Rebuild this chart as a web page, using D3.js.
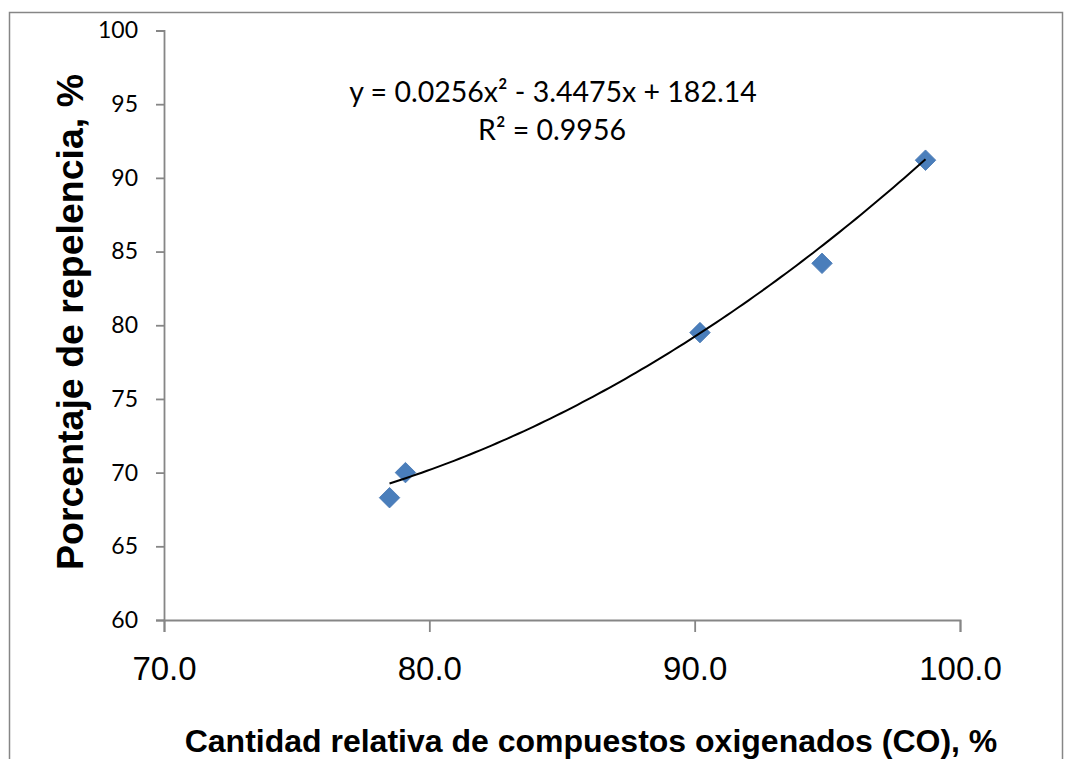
<!DOCTYPE html>
<html>
<head>
<meta charset="utf-8">
<script src="https://cdn.jsdelivr.net/npm/d3@7"></script>
<style>
  body { margin: 0; background: #fff; }
  svg { display: block; }
</style>
</head>
<body>
<div id="chart"></div>
<script>
// Scatter with polynomial trend line (Excel-style chart)

// Data
const coValues = [78.5, 79.1, 90.2, 94.8, 98.7];          // Cantidad relativa de CO, %
const repellence = [68.3, 70.0, 79.5, 84.2, 91.2];         // Porcentaje de repelencia, %
const trendCoef = [182.14, -3.4475, 0.0256];               // c0 + c1*x + c2*x^2
const xTicks = [70, 80, 90, 100];
const yTicks = [60, 65, 70, 75, 80, 85, 90, 95, 100];
const equationText = 'y = 0.0256x\u00B2 - 3.4475x + 182.14';
const r2Text = 'R\u00B2 = 0.9956';

const width = 1065;
const height = 759;
const axisColor = '#868686';

const svg = d3.select('#chart')
    .append('svg')
    .attr('width', width)
    .attr('height', height);

// Chart frame
svg.append('rect')
    .attr('x', 9.5)
    .attr('y', 12.5)
    .attr('width', 1053)
    .attr('height', 780)
    .attr('fill', 'none')
    .attr('stroke', axisColor)
    .attr('stroke-width', 1.5);

const x = d3.scaleLinear().domain([70, 100]).range([164, 960]);
const y = d3.scaleLinear().domain([60, 100]).range([620, 30.5]);

// Y axis
const yAxis = svg.append('g')
    .attr('transform', 'translate(164,0)')
    .call(d3.axisLeft(y).tickValues(yTicks).tickSize(8).tickPadding(18).tickFormat(d3.format('d')));
yAxis.select('.domain').attr('stroke', axisColor).attr('stroke-width', 1.8);
yAxis.selectAll('.tick line').attr('stroke', axisColor).attr('stroke-width', 1.8);
yAxis.selectAll('text')
    .attr('fill', '#000')
    .style('font-family', 'Lato, "Open Sans", sans-serif')
    .style('font-size', '23px');

// X axis
const xAxis = svg.append('g')
    .attr('transform', 'translate(0,620)')
    .call(d3.axisBottom(x).tickValues(xTicks).tickSize(12).tickFormat(d3.format('.1f')));
xAxis.select('.domain').attr('stroke', axisColor).attr('stroke-width', 1.8);
xAxis.selectAll('.tick line').attr('stroke', axisColor).attr('stroke-width', 1.8);
xAxis.selectAll('text')
    .attr('fill', '#000')
    .attr('y', 60)
    .attr('dy', 0)
    .style('font-family', '"Liberation Sans", Arial, sans-serif')
    .style('font-size', '33px');

// Markers (diamonds = rotated squares)
const points = coValues.map((v, i) => ({ x: v, y: repellence[i] }));
svg.append('g')
    .selectAll('path')
    .data(points)
    .enter()
    .append('path')
    .attr('d', d3.symbol(d3.symbolSquare, 210))
    .attr('transform', d => `translate(${x(d.x)},${y(d.y)}) rotate(45)`)
    .attr('fill', '#4a7ebb')
    .attr('stroke', '#4576b2')
    .attr('stroke-width', 0.8);

// Polynomial trend line
const poly = v => trendCoef[0] + trendCoef[1] * v + trendCoef[2] * v * v;
const xExtent = d3.extent(coValues);
const trendPts = d3.range(0, 101).map(i => {
    const v = xExtent[0] + (xExtent[1] - xExtent[0]) * i / 100;
    return [v, poly(v)];
});
svg.append('path')
    .datum(trendPts)
    .attr('d', d3.line().x(d => x(d[0])).y(d => y(d[1])))
    .attr('fill', 'none')
    .attr('stroke', '#000')
    .attr('stroke-width', 2);

// Trend equation label
const eq = svg.append('g')
    .style('font-family', 'Lato, "Open Sans", sans-serif')
    .style('font-size', '28.5px')
    .attr('fill', '#000')
    .attr('text-anchor', 'middle');
eq.append('text').attr('x', 553).attr('y', 102).text(equationText);
eq.append('text').attr('x', 552).attr('y', 140).text(r2Text);

// Axis titles
svg.append('text')
    .attr('x', 591)
    .attr('y', 752)
    .attr('text-anchor', 'middle')
    .style('font-family', '"Liberation Sans", Arial, sans-serif')
    .style('font-weight', 'bold')
    .style('font-size', '32px')
    .text('Cantidad relativa de compuestos oxigenados (CO), %');

svg.append('text')
    .attr('transform', 'translate(83,322) rotate(-90)')
    .attr('text-anchor', 'middle')
    .style('font-family', '"Liberation Sans", Arial, sans-serif')
    .style('font-weight', 'bold')
    .style('font-size', '37.5px')
    .text('Porcentaje de repelencia, %');
</script>
</body>
</html>
